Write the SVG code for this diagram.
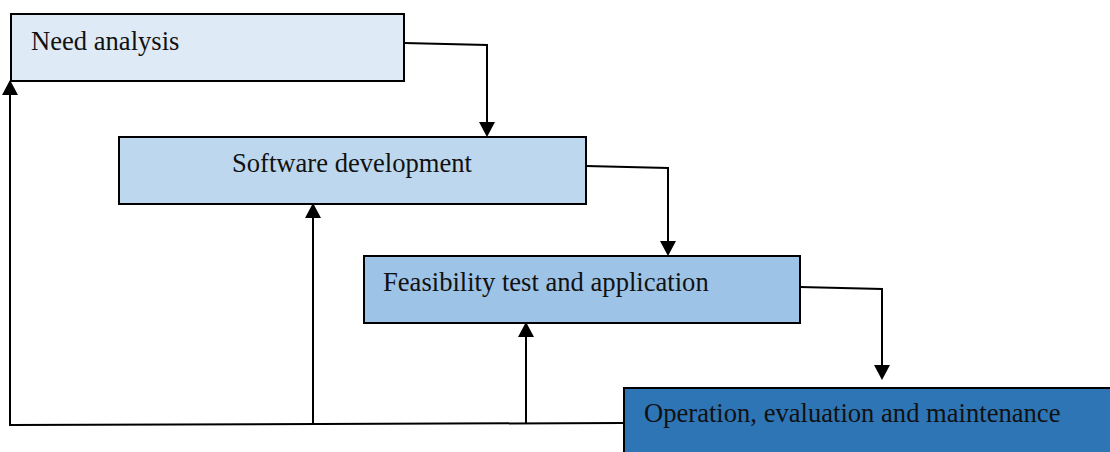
<svg xmlns="http://www.w3.org/2000/svg" width="1110" height="452" viewBox="0 0 1110 452">
  <style>
    .box { stroke: #000; stroke-width: 2; }
    .label { font-family: "Liberation Serif", "Times New Roman", serif; font-size: 26.6px; fill: #111; }
    .conn { fill: none; stroke: #000; stroke-width: 2; }
    .head { fill: #000; }
  </style>
  <rect width="1110" height="452" fill="#fff"/>

  <g id="connectors">
    <!-- forward flow, each stage feeds the next -->
    <path class="conn" d="M404,43 L487,45 L487,123"/>
    <path class="head" d="M479,122 L495,122 L487,137 Z"/>
    <path class="conn" d="M586,166 L668,168 L668,242"/>
    <path class="head" d="M660,241 L676,241 L668,256 Z"/>
    <path class="conn" d="M800,287 L882,289 L882,366"/>
    <path class="head" d="M874,365 L890,365 L882,380 Z"/>
    <!-- feedback line along the bottom -->
    <path class="conn" d="M623,423 L10,425 L10,94"/>
    <path class="conn" d="M313,424 L313,217"/>
    <path class="conn" d="M526,423 L526,336"/>
    <path class="head" d="M10,80 L18,95 L2,95 Z"/>
    <path class="head" d="M313,203 L321,218 L305,218 Z"/>
    <path class="head" d="M526,322 L534,337 L518,337 Z"/>
  </g>

  <g id="need-analysis">
    <rect class="box" x="11" y="14" width="393" height="67" fill="#DEEAF6"/>
    <text class="label" x="31" y="50">Need analysis</text>
  </g>

  <g id="software-development">
    <rect class="box" x="119" y="137" width="467" height="67" fill="#BDD7EE"/>
    <text class="label" x="352" y="172" text-anchor="middle">Software development</text>
  </g>

  <g id="feasibility-test">
    <rect class="box" x="364" y="256" width="436" height="67" fill="#9DC3E6"/>
    <text class="label" x="383" y="291">Feasibility test and application</text>
  </g>

  <g id="operation">
    <rect class="box" x="624" y="388" width="500" height="70" fill="#2E75B6"/>
    <text class="label" x="644" y="422">Operation, evaluation and maintenance</text>
  </g>
</svg>
